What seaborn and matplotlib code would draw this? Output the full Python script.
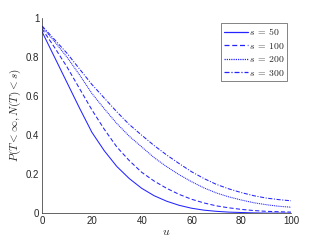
import numpy as np
import pandas as pd
import matplotlib
matplotlib.use("Agg")
import matplotlib.pyplot as plt
from matplotlib.lines import Line2D
import seaborn as sns

# values, every 5 units of u
u = [0, 5, 10, 15, 20, 25, 30, 35, 40, 45, 50, 55, 60, 65, 70, 75, 80, 85, 90, 95, 100]
p_s50 = [0.93, 0.80, 0.67, 0.54, 0.415, 0.32, 0.24, 0.178, 0.128, 0.09, 0.062,
         0.041, 0.026, 0.016, 0.01, 0.006, 0.004, 0.002, 0.001, 0.001, 0.0005]
p_s100 = [0.945, 0.85, 0.75, 0.64, 0.53, 0.43, 0.34, 0.27, 0.21, 0.165, 0.128,
          0.097, 0.072, 0.053, 0.038, 0.028, 0.02, 0.014, 0.01, 0.008, 0.006]
p_s200 = [0.955, 0.88, 0.80, 0.71, 0.614, 0.535, 0.46, 0.395, 0.34, 0.285, 0.239,
          0.198, 0.162, 0.13, 0.104, 0.084, 0.068, 0.054, 0.044, 0.036, 0.031]
p_s300 = [0.96, 0.89, 0.82, 0.74, 0.66, 0.59, 0.52, 0.455, 0.40, 0.347, 0.299,
          0.255, 0.213, 0.178, 0.148, 0.125, 0.106, 0.09, 0.078, 0.07, 0.064]
S_VALUES = [50, 100, 200, 300]
X_TICKS = [0, 20, 40, 60, 80, 100]
Y_TICKS = [0, 0.2, 0.4, 0.6, 0.8, 1]
BLUE = "#2424ff"
DASHES = ["", (4, 2.2), (1, 0.8), (4, 1.5, 1, 1.5)]

df = pd.concat([pd.DataFrame({"u": u, "p": vals, "s": s})
                for s, vals in zip(S_VALUES, [p_s50, p_s100, p_s200, p_s300])])

sns.set_theme(style="white")
plt.rcParams["font.family"] = ["Liberation Sans", "DejaVu Sans"]
plt.rcParams["mathtext.fontset"] = "cm"

fig = plt.figure(figsize=(3.21, 2.41), dpi=100)
ax = fig.add_axes([0.131, 0.115, 0.776, 0.81])

sns.lineplot(data=df, x="u", y="p", style="s", color=BLUE, linewidth=0.75,
             dashes=DASHES, legend=False, ax=ax)

ax.set_xlim(0, 100); ax.set_ylim(0, 1)
ax.set_xticks(X_TICKS); ax.set_yticks(Y_TICKS)
ax.set_xticklabels([str(t) for t in X_TICKS])
ax.set_yticklabels(["0", "0.2", "0.4", "0.6", "0.8", "1"])
ax.tick_params(direction="in", length=2.5, width=0.5, colors="#262626",
               labelsize=7, pad=2)
for side in ["top", "right"]:
    ax.spines[side].set_visible(False)
for side in ["left", "bottom"]:
    ax.spines[side].set_color("#262626"); ax.spines[side].set_linewidth(0.5)

ax.set_xlabel("$u$", fontsize=8.5, labelpad=0)
ax.set_ylabel(r"$P(T<\infty,N(T)<s)$", fontsize=8, labelpad=2)

handles = [Line2D([], [], color=BLUE, lw=0.9, linestyle="-" if d == "" else (0, d))
           for d in DASHES]
leg = ax.legend(handles, [rf"$s\:=\:{s}$" for s in S_VALUES], loc="upper right",
                bbox_to_anchor=(0.985, 0.975), fontsize=7, frameon=True,
                fancybox=False, handlelength=2.4, handletextpad=0.1,
                labelspacing=0.35, borderpad=0.35, borderaxespad=0)
leg.get_frame().set_edgecolor("#262626"); leg.get_frame().set_linewidth(0.5)

fig.savefig("out.png", dpi=100)
